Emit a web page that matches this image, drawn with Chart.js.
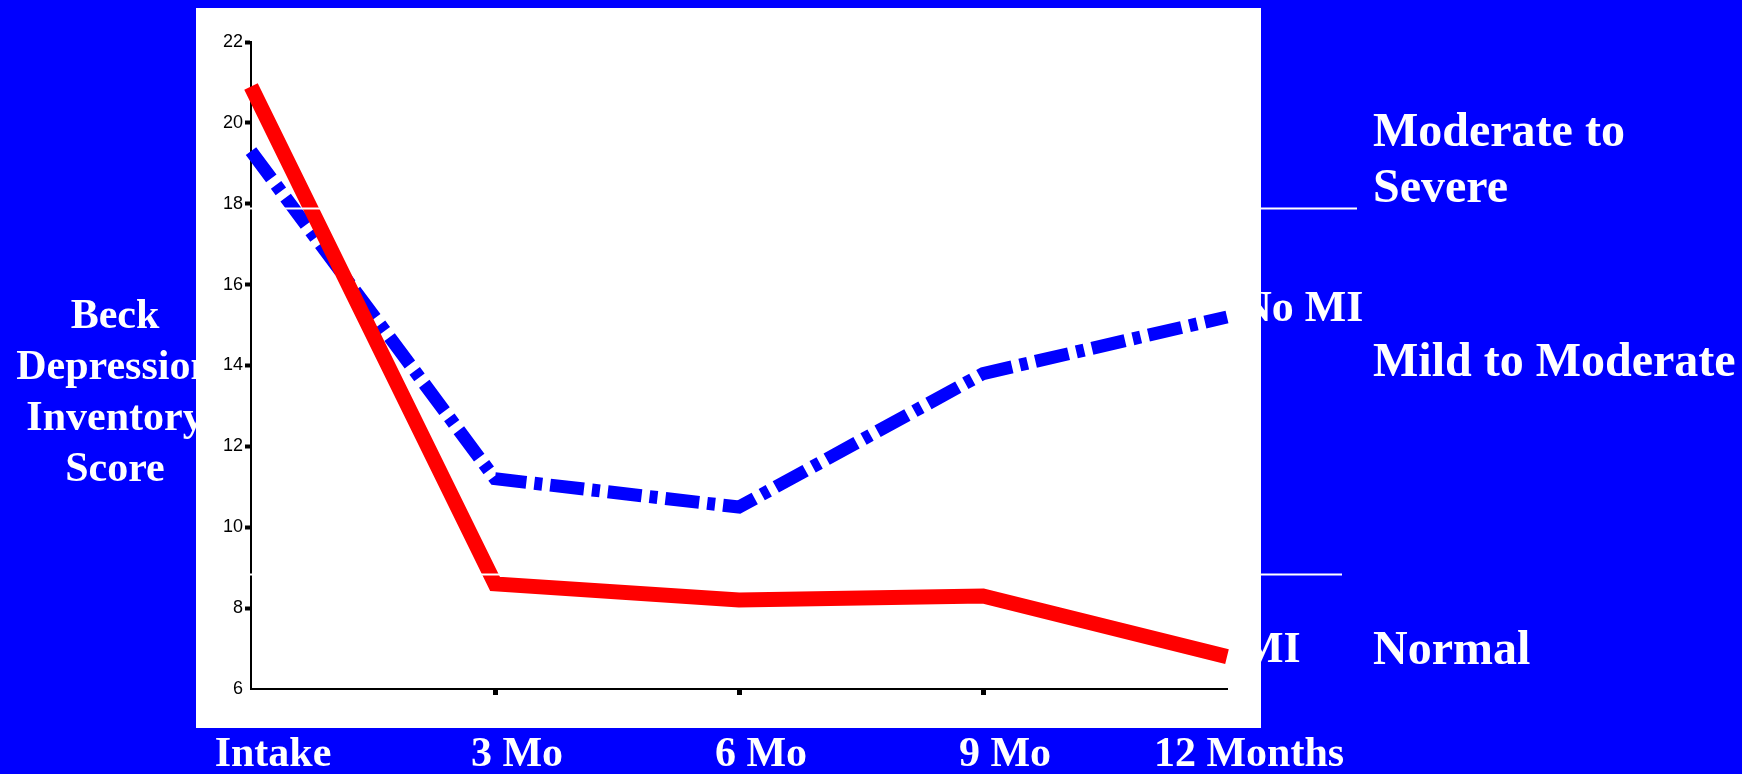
<!DOCTYPE html>
<html>
<head>
<meta charset="utf-8">
<title>Beck Depression Inventory Score</title>
<script src="https://cdn.jsdelivr.net/npm/chart.js@4/dist/chart.umd.min.js"></script>
<style>
  html, body { margin: 0; padding: 0; background: #0000ff; }
  canvas { display: block; }
</style>
</head>
<body>
<canvas id="bdi" width="1742" height="774"></canvas>
<script>
// Follow-up visits
const visits = ['Intake', '3 Mo', '6 Mo', '9 Mo', '12 Months'];

// Mean Beck Depression Inventory score per visit
const miScores = [20.9, 8.6, 8.2, 8.3, 6.8];
const noMiScores = [19.3, 11.2, 10.5, 13.8, 15.2];

// Y axis range and tick spacing
const yMin = 6;
const yMax = 22;
const yStep = 2;

// Severity band cut-offs and their labels
const severityCutoffs = [17.9, 8.85];
const severityLabels = [['Moderate to', 'Severe'], ['Mild to Moderate'], ['Normal']];

// Axis title and series names
const yTitleLines = ['Beck', 'Depression', 'Inventory', 'Score'];
const seriesNames = ['MI', 'No MI'];

const BLUE = '#0000ff';
const RED = '#ff0000';
const SERIF = '"Liberation Serif", "Times New Roman", serif';
const SANS = '"Liberation Sans", Arial, sans-serif';

const slidePlugin = {
  id: 'slide',
  beforeDraw(chart) {
    const { ctx, chartArea: a, scales } = chart;
    const y = scales.y;
    ctx.save();
    ctx.fillStyle = BLUE;
    ctx.fillRect(0, 0, chart.width, chart.height);

    // Axis title on the left, partly tucked under the plot panel
    ctx.fillStyle = '#ffffff';
    ctx.font = 'bold 42px ' + SERIF;
    ctx.textAlign = 'center';
    ctx.textBaseline = 'alphabetic';
    yTitleLines.forEach((t, i) => ctx.fillText(t, a.left - 136, 328 + i * 51));

    // Series names at the end of each line
    ctx.font = 'bold 44px ' + SERIF;
    ctx.textAlign = 'left';
    ctx.fillText(seriesNames[1], a.right + 13, y.getPixelForValue(noMiScores[noMiScores.length - 1]) + 4);
    ctx.fillText(seriesNames[0], a.right + 15, y.getPixelForValue(miScores[miScores.length - 1]) + 5);

    // White plot panel
    ctx.fillStyle = '#ffffff';
    ctx.fillRect(a.left - 55, 8, (a.right + 34) - (a.left - 55), (a.bottom + 39) - 8);
    ctx.restore();
  },
  afterDatasetsDraw(chart) {
    const { ctx, chartArea: a, scales } = chart;
    const y = scales.y;
    ctx.save();
    // Severity cut-off lines
    ctx.strokeStyle = '#ffffff';
    ctx.lineWidth = 2;
    const ends = [a.right + 130, a.right + 115];
    severityCutoffs.forEach((v, i) => {
      const py = Math.round(y.getPixelForValue(v)) + 0.5;
      ctx.beginPath();
      ctx.moveTo(a.left - 8, py);
      ctx.lineTo(ends[i], py);
      ctx.stroke();
    });

    // Severity band labels
    ctx.fillStyle = '#ffffff';
    ctx.font = 'bold 48px ' + SERIF;
    ctx.textAlign = 'left';
    ctx.textBaseline = 'alphabetic';
    const lx = a.right + 146;
    ctx.fillText(severityLabels[0][0], lx, 146);
    ctx.fillText(severityLabels[0][1], lx, 202);
    ctx.fillText(severityLabels[1][0], lx, 376);
    ctx.fillText(severityLabels[2][0], lx, 664);
    ctx.restore();
  }
};

new Chart(document.getElementById('bdi'), {
  type: 'line',
  data: {
    labels: visits,
    datasets: [
      {
        label: seriesNames[0],
        data: miScores,
        borderColor: RED,
        borderWidth: 15,
        borderCapStyle: 'butt',
        borderJoinStyle: 'miter',
        pointRadius: 0,
        tension: 0,
        fill: false,
        clip: false
      },
      {
        label: seriesNames[1],
        data: noMiScores,
        borderColor: BLUE,
        borderWidth: 13,
        borderDash: [34, 8, 8, 8],
        borderCapStyle: 'butt',
        borderJoinStyle: 'miter',
        pointRadius: 0,
        tension: 0,
        fill: false,
        clip: false
      }
    ]
  },
  options: {
    responsive: false,
    devicePixelRatio: 1,
    animation: false,
    events: [],
    layout: { padding: { left: 191, right: 515, top: 42, bottom: 0 } },
    plugins: { legend: { display: false }, tooltip: { enabled: false } },
    scales: {
      x: {
        type: 'category',
        offset: false,
        afterFit(scale) { scale.height = 85; },
        border: { display: true, color: '#000000', width: 2 },
        grid: {
          drawOnChartArea: false,
          drawTicks: true,
          tickLength: 6,
          tickWidth: 5,
          tickColor: (c) => (c.index === 0 || c.index === visits.length - 1) ? 'rgba(0,0,0,0)' : '#000000'
        },
        ticks: {
          color: '#ffffff',
          padding: 35,
          labelOffset: 22,
          maxRotation: 0,
          autoSkip: false,
          font: { family: SERIF, size: 42, weight: 'bold' }
        }
      },
      y: {
        min: yMin,
        max: yMax,
        afterFit(scale) { scale.width = 60; },
        border: { display: true, color: '#000000', width: 2 },
        grid: {
          drawOnChartArea: false,
          drawTicks: true,
          tickLength: 6,
          tickWidth: 4,
          tickColor: (c) => (c.tick && c.tick.value === yMin) ? 'rgba(0,0,0,0)' : '#000000'
        },
        ticks: {
          stepSize: yStep,
          color: '#000000',
          padding: 2,
          font: { family: SANS, size: 18 }
        }
      }
    }
  },
  plugins: [slidePlugin]
});
</script>
</body>
</html>
